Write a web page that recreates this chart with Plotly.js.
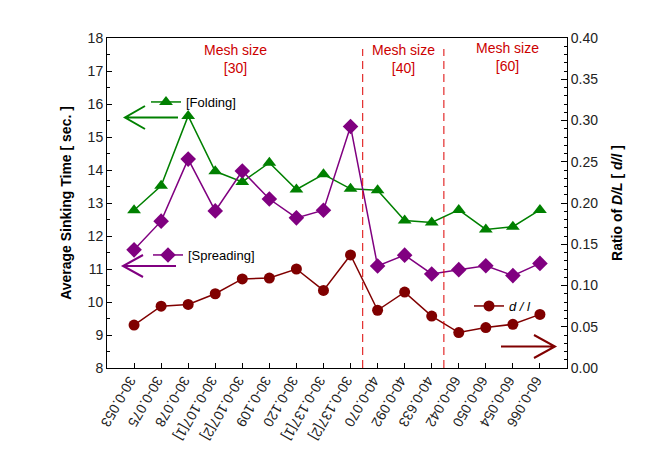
<!DOCTYPE html>
<html>
<head>
<meta charset="utf-8">
<script src="https://cdn.plot.ly/plotly-3.0.1.min.js"></script>
<style>html,body{margin:0;padding:0;background:#fff;}#chart{width:672px;height:451px;}</style>
</head>
<body>
<div id="chart"></div>
<script>
// Data
const categories = ["30-0.053","30-0.075","30-0.078","30-0.107[1]","30-0.107[2]","30-0.109","30-0.120","30-0.137[1]","30-0.137[2]","40-0.070","40-0.092","40-0.633","60-0.042","60-0.050","60-0.054","60-0.066"];
const folding   = [12.78, 13.52, 15.64, 13.96, 13.64, 14.22, 13.41, 13.87, 13.43, 13.39, 12.47, 12.41, 12.79, 12.20, 12.28, 12.79];
const spreading = [11.58, 12.45, 14.33, 12.76, 13.97, 13.12, 12.55, 12.78, 15.32, 11.09, 11.42, 10.85, 10.98, 11.10, 10.80, 11.17];
const ratioDL   = [0.052, 0.075, 0.077, 0.090, 0.108, 0.109, 0.120, 0.094, 0.137, 0.070, 0.092, 0.063, 0.043, 0.049, 0.053, 0.065];
const meshBounds = [8.45, 11.45];
const meshLabels = ["Mesh size<br>[30]", "Mesh size<br>[40]", "Mesh size<br>[60]"];

const idx = categories.map((c, i) => i);
const FONT = "Liberation Sans, Arial, sans-serif";

// plot-area pixel helpers (plot area: x 107..567, y 38..368)
const L = 107, R = 567, T = 38, B = 368;
const px = X => (X - L) / (R - L);
const py = Y => (B - Y) / (B - T);

const traces = [
  {x: idx, y: folding, type: 'scatter', mode: 'lines+markers', name: '[Folding]',
   line: {color: '#008000', width: 1.5}, marker: {symbol: 'triangle-up', size: 12, color: '#008000'},
   legend: 'legend'},
  {x: idx, y: spreading, type: 'scatter', mode: 'lines+markers', name: '[Spreading]',
   line: {color: '#800080', width: 1.5}, marker: {symbol: 'diamond', size: 12, color: '#800080'},
   legend: 'legend2'},
  {x: idx, y: ratioDL, type: 'scatter', mode: 'lines+markers', name: '<i>d / l</i>', yaxis: 'y2',
   line: {color: '#800000', width: 1.5}, marker: {symbol: 'circle', size: 11, color: '#800000'},
   legend: 'legend3'}
];

function arrowPath(tipX, tipY, tailX, armDX, armDY) {
  const x0 = px(tipX), y0 = py(tipY);
  return `M ${px(tailX)} ${y0} L ${x0} ${y0} M ${px(tipX + armDX)} ${py(tipY - armDY)} L ${x0} ${y0} L ${px(tipX + armDX)} ${py(tipY + armDY)}`;
}

const shapes = [];
meshBounds.forEach(b => shapes.push({type: 'line', xref: 'x', yref: 'paper', x0: b, x1: b, y0: 0, y1: py(49),
  line: {color: '#dd0000', width: 1, dash: '8px,5px'}}));
shapes.push({type: 'path', xref: 'paper', yref: 'paper', path: arrowPath(125, 117.5, 178, 20, 11.5), line: {color: '#008000', width: 2}});
shapes.push({type: 'path', xref: 'paper', yref: 'paper', path: arrowPath(123, 266, 176, 20, 11), line: {color: '#800080', width: 2}});
shapes.push({type: 'path', xref: 'paper', yref: 'paper', path: arrowPath(555, 346.5, 501, -21, 11.5), line: {color: '#800000', width: 2}});

const meshPos = [[235, 59], [403, 59], [507, 57]];
const annotations = meshLabels.map((t, i) => ({
  text: t, xref: 'paper', yref: 'paper', x: px(meshPos[i][0]), y: py(meshPos[i][1]),
  xanchor: 'center', yanchor: 'middle', showarrow: false,
  font: {family: FONT, size: 14, color: '#cc0000'}
}));

const legendBase = {bgcolor: 'rgba(0,0,0,0)', borderwidth: 0, font: {family: FONT, size: 13, color: '#000'},
  xanchor: 'left', yanchor: 'middle', itemwidth: 30};

const layout = {
  width: 672, height: 451,
  margin: {l: L, r: 672 - R, t: T, b: 451 - B, pad: 0},
  paper_bgcolor: '#fff', plot_bgcolor: '#fff',
  font: {family: FONT, size: 14, color: '#222'},
  showlegend: true,
  legend:  Object.assign({}, legendBase, {x: px(146), y: py(102)}),
  legend2: Object.assign({}, legendBase, {x: px(148), y: py(255)}),
  legend3: Object.assign({}, legendBase, {x: px(469), y: py(306)}),
  xaxis: {
    range: [-1, 16], tickmode: 'array', tickvals: idx, ticktext: categories,
    tickangle: 120, ticks: 'inside', ticklen: 5, tickcolor: '#000',
    showline: true, linecolor: '#000', linewidth: 1, mirror: true,
    showgrid: false, zeroline: false, tickfont: {family: FONT, size: 14, color: '#222'}
  },
  yaxis: {
    range: [8, 18], dtick: 1, ticks: 'inside', ticklen: 5, tickcolor: '#000',
    minor: {dtick: 0.5, ticks: 'inside', ticklen: 3, tickcolor: '#000', showgrid: false},
    showline: true, linecolor: '#000', linewidth: 1,
    showgrid: false, zeroline: false,
    title: {text: '<b>Average Sinking Time [ sec. ]</b>', font: {family: FONT, size: 14, color: '#000'}, standoff: 12},
    tickfont: {family: FONT, size: 14, color: '#222'}
  },
  yaxis2: {
    overlaying: 'y', side: 'right', range: [0, 0.4], dtick: 0.05, tickformat: '.2f',
    ticks: 'inside', ticklen: 6, tickcolor: '#000',
    minor: {dtick: 0.01, ticks: 'inside', ticklen: 3, tickcolor: '#000', showgrid: false},
    showline: true, linecolor: '#000', linewidth: 1,
    showgrid: false, zeroline: false,
    title: {text: '<b>Ratio of <i>D/L</i> [ <i>d/l</i> ]</b>', font: {family: FONT, size: 14, color: '#000'}, standoff: 14},
    tickfont: {family: FONT, size: 14, color: '#222'}
  },
  shapes: shapes,
  annotations: annotations
};

Plotly.newPlot('chart', traces, layout, {displayModeBar: false, staticPlot: true});
</script>
</body>
</html>
